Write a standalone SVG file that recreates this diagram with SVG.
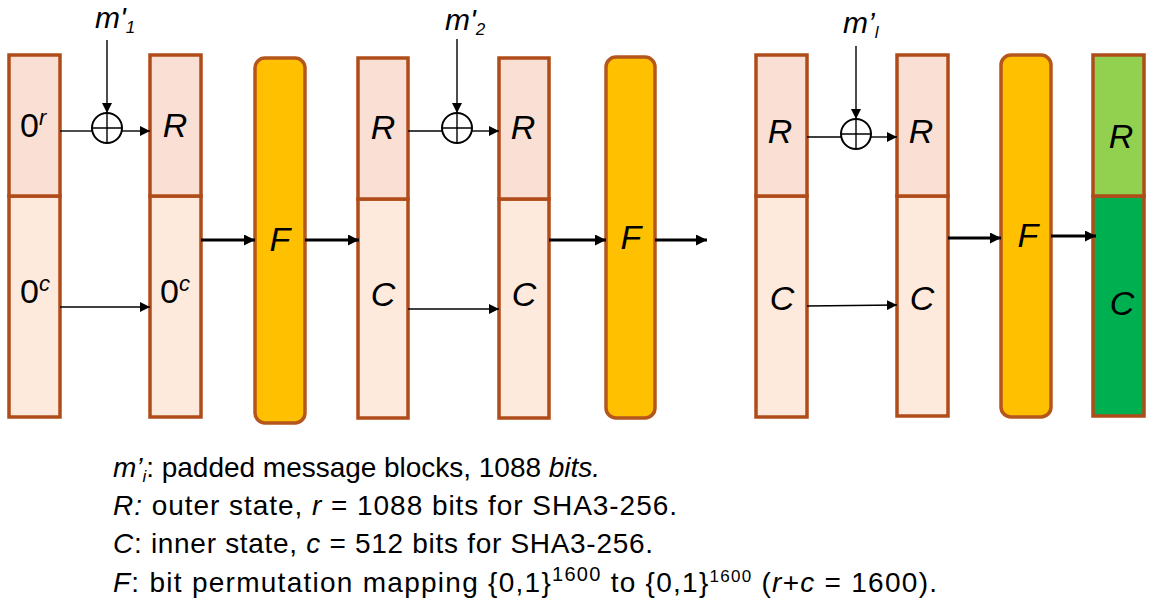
<svg xmlns="http://www.w3.org/2000/svg" width="1159" height="612" viewBox="0 0 1159 612">
<defs>
<marker id="ah" viewBox="0 0 10 10" refX="10" refY="5" markerWidth="10" markerHeight="10" markerUnits="userSpaceOnUse" orient="auto"><path d="M0,0 L10,5 L0,10 z" fill="#000"/></marker>
<marker id="ahb" viewBox="0 0 10 10" refX="10" refY="5" markerWidth="12" markerHeight="11" markerUnits="userSpaceOnUse" orient="auto"><path d="M0,0 L10,5 L0,10 z" fill="#000"/></marker>
<style>
.top{fill:#FAE0D4;stroke:#B04C1A;stroke-width:3.5}
.bot{fill:#FDEADD;stroke:#B04C1A;stroke-width:3.5}
.f{fill:#FFC000;stroke:#B5561C;stroke-width:3.5}
.gt{fill:#92D050;stroke:#B04C1A;stroke-width:3.5}
.gb{fill:#00B050;stroke:#B04C1A;stroke-width:3.5}
.lbl{font-family:"Liberation Sans",Arial,sans-serif;font-size:34px;font-style:italic;text-anchor:middle;fill:#000}
.num{font-family:"Liberation Sans",Arial,sans-serif;font-size:34px;fill:#000}
.m{font-family:"Liberation Sans",Arial,sans-serif;font-size:30px;font-style:italic;fill:#000}
.thin{stroke:#000;stroke-width:1.4;fill:none}
.thick{stroke:#000;stroke-width:3;fill:none}
.xor{fill:#fff;stroke:#000;stroke-width:2}
.txt{font-family:"Liberation Sans",Arial,sans-serif;font-size:28px;fill:#000}
</style>
</defs>
<rect width="1159" height="612" fill="#fff"/>

<g id="col1">
<rect class="bot" x="9" y="196" width="51" height="221"/>
<rect class="top" x="9" y="55" width="51" height="141"/>
<text class="num" x="20" y="137">0<tspan font-size="22" font-style="italic" dy="-12">r</tspan></text>
<text class="num" x="20" y="303">0<tspan font-size="22" font-style="italic" dy="-12">c</tspan></text>
</g>
<g id="col2">
<rect class="bot" x="150" y="196" width="51" height="221"/>
<rect class="top" x="150" y="55" width="51" height="141"/>
<text class="lbl" x="175" y="137">R</text>
<text class="num" x="160" y="303">0<tspan font-size="22" font-style="italic" dy="-12">c</tspan></text>
</g>
<g id="f1">
<rect class="f" x="255" y="58" width="50" height="365" rx="10"/>
<text class="lbl" x="280" y="251">F</text>
</g>
<g id="col3">
<rect class="bot" x="358" y="199" width="50" height="219"/>
<rect class="top" x="358" y="58" width="50" height="141"/>
<text class="lbl" x="383" y="139">R</text>
<text class="lbl" x="383" y="306">C</text>
</g>
<g id="col4">
<rect class="bot" x="499" y="199" width="50" height="219"/>
<rect class="top" x="499" y="58" width="50" height="141"/>
<text class="lbl" x="523" y="139">R</text>
<text class="lbl" x="524" y="306">C</text>
</g>
<g id="f2">
<rect class="f" x="606" y="57" width="49" height="361" rx="10"/>
<text class="lbl" x="631" y="249">F</text>
</g>
<g id="col5">
<rect class="bot" x="756" y="196" width="51" height="221"/>
<rect class="top" x="756" y="55" width="51" height="141"/>
<text class="lbl" x="780" y="143">R</text>
<text class="lbl" x="782" y="310">C</text>
</g>
<g id="col6">
<rect class="bot" x="897" y="196" width="51" height="220"/>
<rect class="top" x="897" y="55" width="51" height="141"/>
<text class="lbl" x="921" y="143">R</text>
<text class="lbl" x="922" y="310">C</text>
</g>
<g id="f3">
<rect class="f" x="1001" y="55" width="50" height="362" rx="10"/>
<text class="lbl" x="1028" y="247">F</text>
</g>
<g id="out">
<rect class="gb" x="1093" y="196" width="51" height="220"/>
<rect class="gt" x="1093" y="55" width="51" height="141"/>
<text class="lbl" x="1121" y="148">R</text>
<text class="lbl" x="1122" y="315">C</text>
</g>

<g id="m1"><text class="m" x="95" y="28">m'<tspan font-size="17" dy="5">1</tspan></text></g>
<g id="m2"><text class="m" x="445" y="30">m'<tspan font-size="17" dy="5">2</tspan></text></g>
<g id="ml"><text class="m" x="843" y="33">m’<tspan font-size="17" dy="5">l</tspan></text></g>

<g id="xor1"><circle class="xor" cx="107" cy="128" r="15"/><path class="thin" d="M92,128 H122 M107,113 V143" stroke-width="2"/></g>
<g id="xor2"><circle class="xor" cx="457" cy="128" r="15"/><path class="thin" d="M442,128 H472 M457,113 V143" stroke-width="2"/></g>
<g id="xor3"><circle class="xor" cx="856" cy="134" r="15"/><path class="thin" d="M841,134 H871 M856,119 V149" stroke-width="2"/></g>

<g id="connectors">
<line class="thin" x1="107" y1="40" x2="107" y2="113" marker-end="url(#ah)"/>
<line class="thin" x1="60" y1="131" x2="92" y2="131"/>
<line class="thin" x1="122" y1="131" x2="150" y2="131" marker-end="url(#ah)"/>
<line class="thin" x1="60" y1="307" x2="150" y2="307" marker-end="url(#ah)"/>

<line class="thin" x1="457" y1="39" x2="457" y2="113" marker-end="url(#ah)"/>
<line class="thin" x1="408" y1="131" x2="442" y2="131"/>
<line class="thin" x1="472" y1="131" x2="499" y2="131" marker-end="url(#ah)"/>
<line class="thin" x1="408" y1="309" x2="499" y2="309" stroke="#444" marker-end="url(#ah)"/>

<line class="thin" x1="856" y1="46" x2="856" y2="119" marker-end="url(#ah)"/>
<line class="thin" x1="807" y1="137" x2="841" y2="137"/>
<line class="thin" x1="871" y1="137" x2="897" y2="137" marker-end="url(#ah)"/>
<line class="thin" x1="807" y1="306" x2="897" y2="305" marker-end="url(#ah)"/>

<line class="thick" x1="201" y1="240" x2="255" y2="240" marker-end="url(#ahb)"/>
<line class="thick" x1="305" y1="240" x2="359" y2="240" marker-end="url(#ahb)"/>
<line class="thick" x1="549" y1="240" x2="606" y2="240" marker-end="url(#ahb)"/>
<line class="thick" x1="655" y1="240" x2="707" y2="240" marker-end="url(#ahb)"/>
<line class="thick" x1="948" y1="238" x2="1001" y2="238" marker-end="url(#ahb)"/>
<line class="thick" x1="1051" y1="236" x2="1096" y2="236" marker-end="url(#ahb)"/>
</g>

<g id="legend" xml:space="preserve">
<text class="txt" x="113" y="477" textLength="487" lengthAdjust="spacing"><tspan font-style="italic">m’</tspan><tspan font-style="italic" font-size="17" dy="5">i</tspan><tspan dy="-5">: padded message blocks, 1088 </tspan><tspan font-style="italic">bits.</tspan></text>
<text class="txt" x="113" y="515" textLength="564" lengthAdjust="spacing"><tspan font-style="italic">R:</tspan> outer state, <tspan font-style="italic">r</tspan> = 1088 bits for SHA3-256.</text>
<text class="txt" x="113" y="553" textLength="540" lengthAdjust="spacing"><tspan font-style="italic">C</tspan>: inner state, <tspan font-style="italic">c</tspan> = 512 bits for SHA3-256.</text>
<text class="txt" x="113" y="592" textLength="824" lengthAdjust="spacing"><tspan font-style="italic">F</tspan>: bit permutation mapping {0,1}<tspan font-size="20" dy="-11">1600</tspan><tspan dy="11"> to {0,1}</tspan><tspan font-size="17" dy="-10">1600</tspan><tspan dy="10">   (</tspan><tspan font-style="italic">r</tspan>+<tspan font-style="italic">c</tspan> = 1600).</text>
</g>
</svg>
